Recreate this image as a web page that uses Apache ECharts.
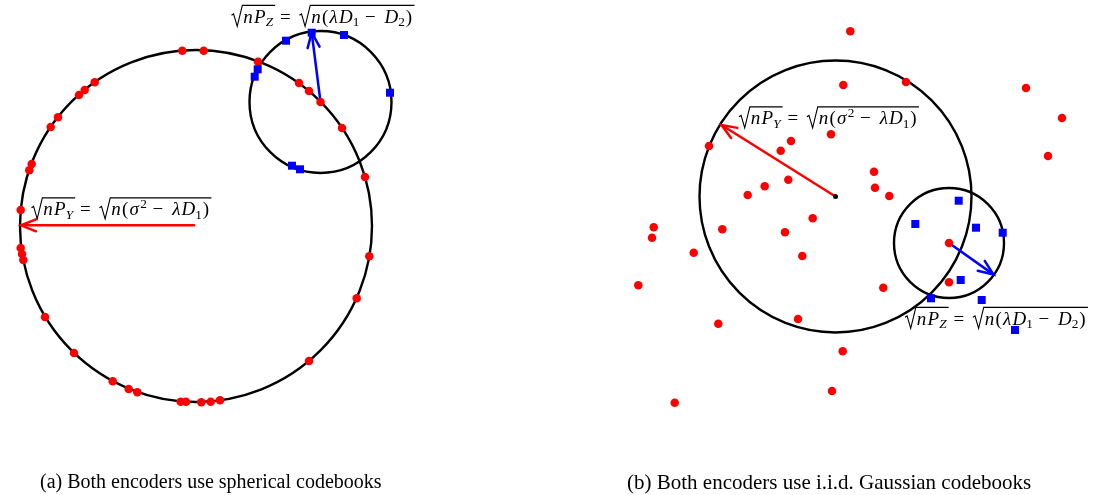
<!DOCTYPE html>
<html>
<head>
<meta charset="utf-8">
<script src="https://cdn.jsdelivr.net/npm/echarts@6/dist/echarts.min.js"></script>
<style>
  html, body { margin: 0; padding: 0; background: #fff; }
  #chart { width: 1101px; height: 495px; }
</style>
</head>
<body>
<div id="chart"></div>
<script>
// everything is in picture units: x to the right, y downwards

// circles: [cx, cy, r]
const circles = [[196, 226, 176], [320.5, 102, 71], [835.5, 196.5, 136], [949, 243, 55]];

// (a) spherical codebooks
const redDotsA = [
  [182.3, 50.7], [203.7, 50.7], [94.7, 82.3], [84.7, 90], [79, 95], [58, 117.3], [50.7, 127],
  [31.7, 164], [29.3, 170.3], [20.7, 210], [20.7, 248], [22, 254], [23.3, 260], [45, 317],
  [74, 353], [112.7, 381.3], [128.7, 389], [137.3, 392.3], [180.7, 401.7], [186, 401.7],
  [201.3, 402.3], [210.7, 401.7], [220, 400.3], [309, 361], [356.7, 298.3], [369.3, 256.3],
  [365, 177], [342, 128], [320.5, 102], [309, 91], [299, 83], [258, 61.7]
];
const blueSquaresA = [
  [286, 40.7], [311.7, 32.7], [344, 35], [390, 92.7], [257.7, 69.3], [254.7, 76.7],
  [292, 165.7], [300, 169.3]
];

// (b) i.i.d. Gaussian codebooks
const redDotsB = [
  [850.3, 31.3], [843.3, 85], [906, 82], [1026, 88], [1062, 118], [1048, 156], [709, 146],
  [791, 141], [780.7, 150.7], [831, 134.3], [788.3, 179.7], [764.7, 186.3], [747.7, 195],
  [874, 171.7], [875, 187.7], [889.3, 196], [812.7, 218.3], [653.7, 227.3], [652, 237.7],
  [722.3, 229.3], [785, 232.3], [693.7, 252.7], [802.3, 256], [638.3, 285.3], [883.3, 287.7],
  [949, 282.3], [718.3, 323.7], [798, 319], [842.7, 351.3], [832, 391], [674.7, 402.7],
  [949, 243]
];
const blueSquaresB = [
  [958.7, 200.7], [915.3, 224], [976, 227.7], [1002.7, 232.7], [960.7, 280], [931, 298.3],
  [981.7, 300], [1015, 330]
];
const originB = [[835.5, 196.5]];

// arrows: [x0, y0, x1, y1] (tail -> head)
const redArrows = [[194, 225.3, 21, 225.3], [835.5, 196.5, 721.5, 125]];
const blueArrows = [[320.5, 102, 311.7, 32.5], [949, 243, 993.5, 274.5]];

// math labels: ['sqrt', [...]] or [kind, text]; kinds: i italic, r roman, subi/sub/sup
const labelPY = [
  ['sqrt', [['i', 'n'], ['i', 'P'], ['subi', 'Y']]],
  ['r', ' = '],
  ['sqrt', [['i', 'n'], ['r', '('], ['i', 'σ'], ['sup', '2'], ['r', ' − '], ['i', 'λ'], ['i', 'D'], ['sub', '1'], ['r', ')']]]
];
const labelPZ = [
  ['sqrt', [['i', 'n'], ['i', 'P'], ['subi', 'Z']]],
  ['r', ' = '],
  ['sqrt', [['i', 'n'], ['r', '('], ['i', 'λ'], ['i', 'D'], ['sub', '1'], ['r', ' − '], ['i', 'D'], ['sub', '2'], ['r', ')']]]
];
const labelTexts = [labelPZ, labelPY, labelPY, labelPZ];
const labelAnchors = [[231.5, 22.5], [31.5, 215], [739, 124], [905, 324.5]];

const captions = ['(a) Both encoders use spherical codebooks', '(b) Both encoders use i.i.d. Gaussian codebooks'];

const mathFamily = '"Liberation Serif", "Times New Roman", serif';
const FS = 19;
const ctx = document.createElement('canvas').getContext('2d');

const fontOf = (kind) => {
  const small = kind === 'sub' || kind === 'subi' || kind === 'sup';
  const italic = kind === 'i' || kind === 'subi';
  return (italic ? 'italic ' : '') + (small ? FS * 0.7 : FS).toFixed(1) + 'px ' + mathFamily;
};

// widen advances a little, CM glyphs are broader than Times
const stretchOf = (kind, next) => {
  if (kind === 'i' && next && (next[0] === 'sub' || next[0] === 'subi')) return 1.0;
  if (kind === 'r') return 1.2;
  return 1.14;
};

const measure = (text, font) => {
  ctx.font = font;
  ctx.textBaseline = 'alphabetic';
  return ctx.measureText(text).width;
};

// distance from canvas 'middle' line down to alphabetic baseline
const baselineOffset = (font) => {
  ctx.font = font;
  ctx.textBaseline = 'alphabetic';
  const a = ctx.measureText('H').actualBoundingBoxAscent;
  ctx.textBaseline = 'middle';
  const b = ctx.measureText('H').actualBoundingBoxAscent;
  ctx.textBaseline = 'alphabetic';
  return a - b;
};

const layoutMath = (pieces, x0, base, children) => {
  let x = x0;
  pieces.forEach((p, i) => {
    if (p[0] === 'sqrt') {
      const inner = [];
      const end = layoutMath(p[1], x + FS * 0.62, base, inner);
      const top = base - FS * 0.9;
      children.push({
        type: 'polyline',
        shape: { points: [[x, base - FS * 0.38], [x + FS * 0.11, base - FS * 0.45], [x + FS * 0.3, base + FS * 0.2], [x + FS * 0.57, top], [end + 1, top]] },
        style: { stroke: '#000', lineWidth: 1.1, fill: null }
      });
      children.push(...inner);
      x = end + 1;
    } else {
      const kind = p[0];
      const text = p[1];
      const font = fontOf(kind);
      let dy = 0;
      if (kind === 'sub' || kind === 'subi') dy = FS * 0.2;
      if (kind === 'sup') dy = -FS * 0.38;
      children.push({
        type: 'text',
        x: x,
        y: base + dy - baselineOffset(font),
        style: { text: text, font: font, fill: '#000', textAlign: 'left', textVerticalAlign: 'middle', align: 'left', verticalAlign: 'middle' }
      });
      x += measure(text, font) * stretchOf(kind, pieces[i + 1]);
    }
  });
  return x;
};

const arrowItem = (color) => (params, api) => {
  const a = api.coord([api.value(0), api.value(1)]);
  const b = api.coord([api.value(2), api.value(3)]);
  const dx = b[0] - a[0];
  const dy = b[1] - a[1];
  const len = Math.sqrt(dx * dx + dy * dy);
  const ux = dx / len;
  const uy = dy / len;
  const back = 15;
  const half = 6;
  const style = { stroke: color, lineWidth: 2.5, fill: null, lineCap: 'round', lineJoin: 'miter' };
  return {
    type: 'group',
    children: [
      { type: 'line', shape: { x1: a[0], y1: a[1], x2: b[0] - ux * 1.5, y2: b[1] - uy * 1.5 }, style: style },
      {
        type: 'polyline',
        shape: { points: [
          [b[0] - ux * back - uy * half, b[1] - uy * back + ux * half],
          [b[0], b[1]],
          [b[0] - ux * back + uy * half, b[1] - uy * back - ux * half]
        ] },
        style: style
      }
    ]
  };
};

const chart = echarts.init(document.getElementById('chart'));

const option = {
  backgroundColor: '#fff',
  animation: false,
  title: [
    {
      text: captions[0], left: 40, top: 473, padding: 0,
      textStyle: { fontFamily: 'Liberation Serif', fontSize: 20, fontWeight: 'normal', color: '#000' }
    },
    {
      text: captions[1], left: 627, top: 472.5, padding: 0,
      textStyle: { fontFamily: 'Liberation Serif', fontSize: 21, fontWeight: 'normal', color: '#000' }
    }
  ],
  grid: { left: 0, right: 0, top: 0, bottom: 0 },
  xAxis: { type: 'value', min: 0, max: 1101, show: false },
  yAxis: { type: 'value', min: 0, max: 495, inverse: true, show: false },
  series: [
    {
      type: 'custom',
      data: circles,
      encode: { x: 0, y: 1 },
      clip: false,
      z: 1,
      renderItem: (params, api) => {
        const c = api.coord([api.value(0), api.value(1)]);
        const r = api.size([api.value(2), 0])[0];
        return { type: 'circle', shape: { cx: c[0], cy: c[1], r: r }, style: { fill: null, stroke: '#000', lineWidth: 2.4 } };
      }
    },
    {
      type: 'custom',
      data: redArrows,
      encode: { x: [0, 2], y: [1, 3] },
      z: 2,
      renderItem: arrowItem('#ff0000')
    },
    {
      type: 'custom',
      data: blueArrows,
      encode: { x: [0, 2], y: [1, 3] },
      z: 2,
      renderItem: arrowItem('#0000ff')
    },
    {
      type: 'scatter',
      data: redDotsA.concat(redDotsB),
      symbol: 'circle',
      symbolSize: 8.5,
      itemStyle: { color: '#ff0000', opacity: 1 },
      z: 3
    },
    {
      type: 'scatter',
      data: blueSquaresA.concat(blueSquaresB),
      symbol: 'rect',
      symbolSize: 8,
      itemStyle: { color: '#0000ff', opacity: 1 },
      z: 3
    },
    {
      type: 'scatter',
      data: originB,
      symbol: 'circle',
      symbolSize: 5,
      itemStyle: { color: '#000', opacity: 1 },
      z: 3
    },
    {
      type: 'custom',
      data: labelAnchors,
      encode: { x: 0, y: 1 },
      z: 4,
      renderItem: (params, api) => {
        const p = api.coord([api.value(0), api.value(1)]);
        const children = [];
        layoutMath(labelTexts[params.dataIndex], p[0], p[1], children);
        return { type: 'group', children: children };
      }
    }
  ]
};

chart.setOption(option);
</script>
</body>
</html>
